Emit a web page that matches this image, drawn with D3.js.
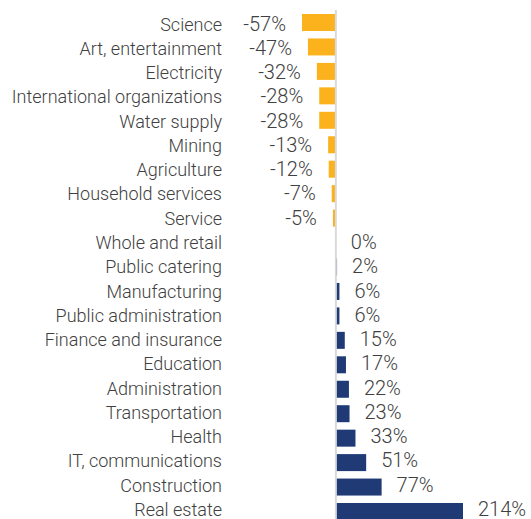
<!DOCTYPE html>
<html>
<head>
<meta charset="utf-8">
<script src="https://cdn.jsdelivr.net/npm/d3@7"></script>
<style>
  html, body { margin: 0; padding: 0; background: #fff; }
  svg { display: block; }
  text { font-family: Roboto, "Open Sans", sans-serif; font-weight: 300; fill: #404040; }
</style>
</head>
<body>
<svg id="chart" width="531" height="519"></svg>
<script>
// Change by sector, percent
const categories = [
  "Science", "Art, entertainment", "Electricity", "International organizations",
  "Water supply", "Mining", "Agriculture", "Household services", "Service",
  "Whole and retail", "Public catering", "Manufacturing", "Public administration",
  "Finance and insurance", "Education", "Administration", "Transportation",
  "Health", "IT, communications", "Construction", "Real estate"
];
const values = [
  -57, -47, -32, -28, -28, -13, -12, -7, -5,
  0, 2, 6, 6, 15, 17, 22, 23, 33, 51, 77, 214
];
const valueLabels = [
  "-57%", "-47%", "-32%", "-28%", "-28%", "-13%", "-12%", "-7%", "-5%",
  "0%", "2%", "6%", "6%", "15%", "17%", "22%", "23%", "33%", "51%", "77%", "214%"
];

const svg = d3.select("#chart");
const negColor = "#FBB21D";
const posColor = "#1F3A75";

const x = d3.scaleLinear().domain([-57, 214]).range([302, 463]);
const y = d3.scaleBand().domain(categories).range([14, 520]).paddingInner(0.305).paddingOuter(0);
// text baselines, slightly tighter than the bar rows
const yText = d3.scalePoint().domain(categories).range([30.5, 516]);

const rows = categories.map((c, i) => ({ cat: c, v: values[i], label: valueLabels[i] }));

// bars
svg.append("g").selectAll("rect").data(rows).join("rect")
  .attr("x", d => x(Math.min(0, d.v)))
  .attr("width", d => Math.abs(x(d.v) - x(0)))
  .attr("y", d => y(d.cat))
  .attr("height", y.bandwidth())
  .attr("fill", d => d.v < 0 ? negColor : posColor);

// zero baseline
svg.append("line")
  .attr("x1", x(0)).attr("x2", x(0))
  .attr("y1", 10).attr("y2", 519)
  .attr("stroke", "#d9d9d9").attr("stroke-width", 2);

// category labels
svg.append("g").selectAll("text").data(rows).join("text")
  .attr("x", 222)
  .attr("y", d => yText(d.cat))
  .attr("text-anchor", "end")
  .attr("font-size", 18)
  .text(d => d.cat);

// value labels
svg.append("g").selectAll("text").data(rows).join("text")
  .attr("x", d => d.v < 0 ? x(d.v) - 16 : x(d.v) + 15)
  .attr("y", d => yText(d.cat))
  .attr("text-anchor", d => d.v < 0 ? "end" : "start")
  .attr("font-size", 20)
  .text(d => d.label);
</script>
</body>
</html>
